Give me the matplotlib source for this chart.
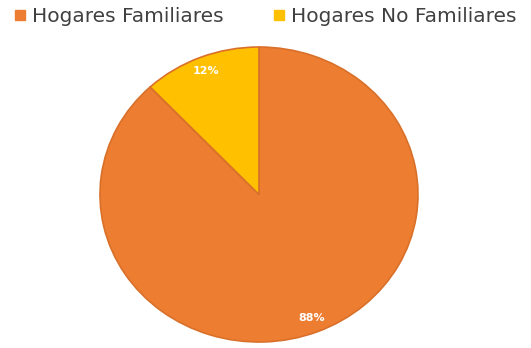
import matplotlib.pyplot as plt
from matplotlib.lines import Line2D

labels = ["Hogares Familiares", "Hogares No Familiares"]
shares = [88, 12]
colors = ["#ED7D31", "#FFC000"]

fig = plt.figure(figsize=(5.31, 3.48), dpi=100)
# pie is slightly wider than tall, so the axes are not square
ax = fig.add_axes([0.1883, 0.0172, 0.5989, 0.8477])

wedges, texts, autotexts = ax.pie(
    shares, colors=colors, startangle=90, counterclock=False,
    autopct="%d%%", pctdistance=0.9,
    wedgeprops=dict(edgecolor="#D9702A", linewidth=1.2),
    textprops=dict(color="white", fontsize=8, fontweight="bold"),
)
ax.set_aspect("auto")
ax.set_xlim(-1, 1)
ax.set_ylim(-1, 1)

handles = [Line2D([], [], marker="s", linestyle="", markersize=6.5,
                  markerfacecolor=c, markeredgecolor=c) for c in colors]
fig.legend(handles, labels, loc="center", bbox_to_anchor=(0.5, 1 - 17 / 348),
           ncol=2, frameon=False, fontsize=14.5, handlelength=0.5,
           handletextpad=0.35, columnspacing=2.5, labelcolor="#404040",
           borderpad=0, borderaxespad=0)

fig.savefig("out.png", dpi=100)
